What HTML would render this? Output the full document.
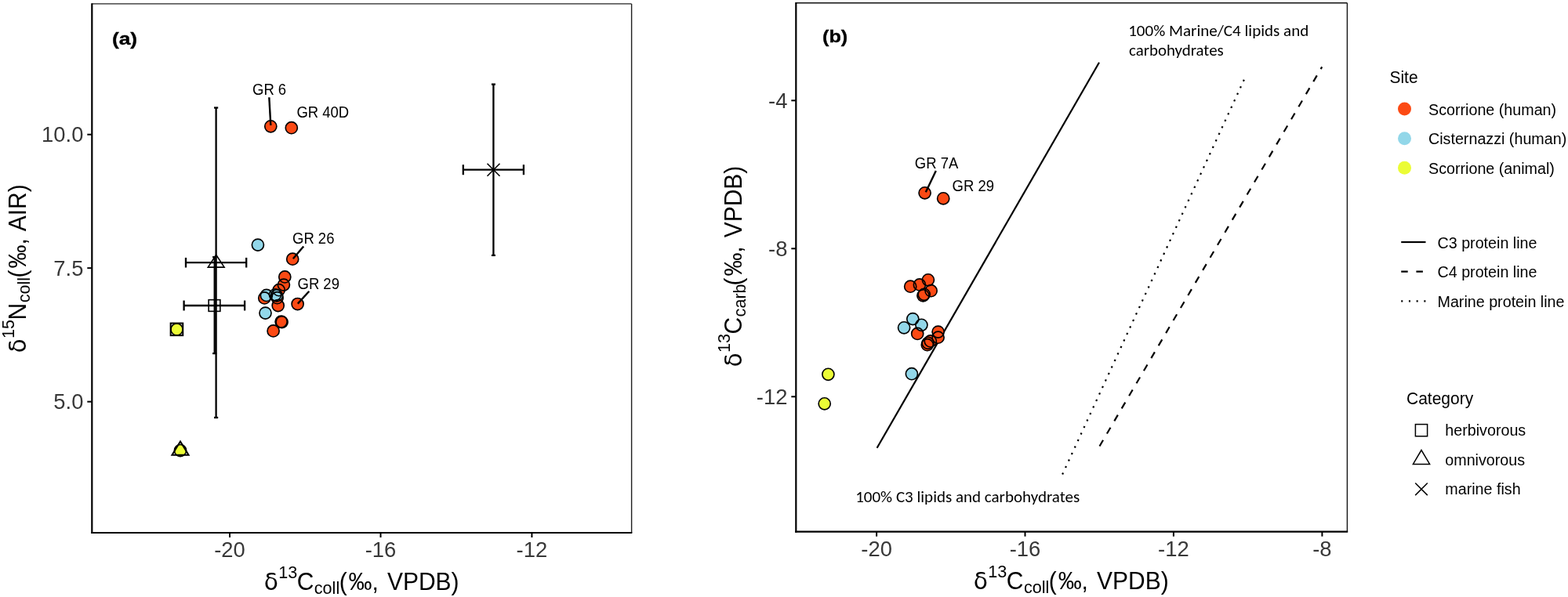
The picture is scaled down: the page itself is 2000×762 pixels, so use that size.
<!DOCTYPE html>
<html><head><meta charset="utf-8"><title>Isotope plots</title>
<style>html,body{margin:0;padding:0;background:#fff;} svg{display:block;}</style>
</head><body>
<svg width="2000" height="762" viewBox="0 0 2000 762">
<rect x="0" y="0" width="2000" height="762" fill="#fff"/>
<line x1="117.3" y1="4.9" x2="805.6" y2="4.9" stroke="#222" stroke-width="1.4"/>
<line x1="805.6" y1="4.9" x2="805.6" y2="680.0" stroke="#1e1e1e" stroke-width="1.4"/>
<line x1="117.3" y1="4.2" x2="117.3" y2="681.1" stroke="#000" stroke-width="2.2"/>
<line x1="116.2" y1="680.0" x2="806.3000000000001" y2="680.0" stroke="#000" stroke-width="2.2"/>
<line x1="293.0" y1="680.0" x2="293.0" y2="686.0" stroke="#000" stroke-width="2"/>
<text transform="translate(293.0,710.6) scale(0.9662,1)" x="0" y="0" font-size="28.36" text-anchor="middle" fill="#383838" font-family='"Liberation Sans", Arial, Helvetica, sans-serif' >-20</text>
<line x1="485.5" y1="680.0" x2="485.5" y2="686.0" stroke="#000" stroke-width="2"/>
<text transform="translate(485.5,710.6) scale(0.9662,1)" x="0" y="0" font-size="28.36" text-anchor="middle" fill="#383838" font-family='"Liberation Sans", Arial, Helvetica, sans-serif' >-16</text>
<line x1="678.4" y1="680.0" x2="678.4" y2="686.0" stroke="#000" stroke-width="2"/>
<text transform="translate(678.4,710.6) scale(0.9662,1)" x="0" y="0" font-size="28.36" text-anchor="middle" fill="#383838" font-family='"Liberation Sans", Arial, Helvetica, sans-serif' >-12</text>
<line x1="111.3" y1="171.7" x2="117.3" y2="171.7" stroke="#000" stroke-width="2"/>
<text transform="translate(106.4,181.39999999999998) scale(0.9662,1)" x="0" y="0" font-size="28.36" text-anchor="end" fill="#383838" font-family='"Liberation Sans", Arial, Helvetica, sans-serif' >10.0</text>
<line x1="111.3" y1="342.15" x2="117.3" y2="342.15" stroke="#000" stroke-width="2"/>
<text transform="translate(106.4,351.84999999999997) scale(0.9662,1)" x="0" y="0" font-size="28.36" text-anchor="end" fill="#383838" font-family='"Liberation Sans", Arial, Helvetica, sans-serif' >7.5</text>
<line x1="111.3" y1="512.7" x2="117.3" y2="512.7" stroke="#000" stroke-width="2"/>
<text transform="translate(106.4,522.4000000000001) scale(0.9662,1)" x="0" y="0" font-size="28.36" text-anchor="end" fill="#383838" font-family='"Liberation Sans", Arial, Helvetica, sans-serif' >5.0</text>
<text transform="translate(338.4,752.8) rotate(0) scale(0.9756,1)" font-family='"Liberation Sans", Arial, Helvetica, sans-serif' fill="#000"><tspan x="-1.74" y="0.0" font-size="30.50" font-family="DejaVu Sans, Liberation Sans, sans-serif">&#948;</tspan><tspan x="17.22" y="-14.9" font-size="22.14">13</tspan><tspan x="41.31" y="0.0" font-size="30.75">C</tspan><tspan x="63.96" y="5.2" font-size="22.14">coll</tspan><tspan x="96.66" y="0.0" font-size="30.75">(</tspan><tspan x="108.85" y="0.0" font-size="30.75">&#8240;</tspan><tspan x="139.50" y="0.0" font-size="30.75">,</tspan><tspan x="159.39" y="0.0" font-size="30.75">VPDB)</tspan></text>
<text transform="translate(33.2,448.7) rotate(-90) scale(0.9756,1)" font-family='"Liberation Sans", Arial, Helvetica, sans-serif' fill="#000"><tspan x="-1.74" y="0.0" font-size="30.50" font-family="DejaVu Sans, Liberation Sans, sans-serif">&#948;</tspan><tspan x="17.22" y="-14.9" font-size="22.14">15</tspan><tspan x="41.31" y="0.0" font-size="30.75">N</tspan><tspan x="63.96" y="5.2" font-size="22.14">coll</tspan><tspan x="96.66" y="0.0" font-size="30.75">(</tspan><tspan x="108.85" y="0.0" font-size="30.75">&#8240;</tspan><tspan x="139.50" y="0.0" font-size="30.75">,</tspan><tspan x="157.34" y="0.0" font-size="30.75">AIR)</tspan></text>
<text x="142.9" y="56.5" font-size="22" text-anchor="start" font-weight="bold" fill="#000" font-family='"Liberation Sans", Arial, Helvetica, sans-serif' textLength="32.2" lengthAdjust="spacingAndGlyphs" stroke="#000" stroke-width="0.35">(a)</text>
<polygon points="275.7,325.2 265.3,341.1 286.09999999999997,341.1" fill="none" stroke="#000" stroke-width="1.6" stroke-linejoin="miter"/>
<line x1="275.6" y1="137.5" x2="275.6" y2="533.0" stroke="#000" stroke-width="2.3"/><line x1="273.0" y1="137.5" x2="278.20000000000005" y2="137.5" stroke="#000" stroke-width="2.3"/><line x1="273.0" y1="533.0" x2="278.20000000000005" y2="533.0" stroke="#000" stroke-width="2.3"/>
<line x1="237.0" y1="335.2" x2="314.2" y2="335.2" stroke="#000" stroke-width="2.3"/><line x1="237.0" y1="328.9" x2="237.0" y2="341.5" stroke="#000" stroke-width="2.3"/><line x1="314.2" y1="328.9" x2="314.2" y2="341.5" stroke="#000" stroke-width="2.3"/>
<rect x="266.15" y="382.65" width="14.7" height="14.7" fill="none" stroke="#000" stroke-width="1.6"/>
<line x1="273.7" y1="328.1" x2="273.7" y2="451.1" stroke="#000" stroke-width="2.3"/><line x1="271.09999999999997" y1="328.1" x2="276.3" y2="328.1" stroke="#000" stroke-width="2.3"/><line x1="271.09999999999997" y1="451.1" x2="276.3" y2="451.1" stroke="#000" stroke-width="2.3"/>
<line x1="234.6" y1="390.0" x2="312.1" y2="390.0" stroke="#000" stroke-width="2.3"/><line x1="234.6" y1="383.55" x2="234.6" y2="396.45" stroke="#000" stroke-width="2.3"/><line x1="312.1" y1="383.55" x2="312.1" y2="396.45" stroke="#000" stroke-width="2.3"/>
<line x1="621.5" y1="208.7" x2="637.5" y2="224.7" stroke="#000" stroke-width="1.6"/><line x1="621.5" y1="224.7" x2="637.5" y2="208.7" stroke="#000" stroke-width="1.6"/>
<line x1="629.4" y1="107.6" x2="629.4" y2="325.9" stroke="#000" stroke-width="2.3"/><line x1="626.9" y1="107.6" x2="631.9" y2="107.6" stroke="#000" stroke-width="2.3"/><line x1="626.9" y1="325.9" x2="631.9" y2="325.9" stroke="#000" stroke-width="2.3"/>
<line x1="590.8" y1="216.7" x2="667.9" y2="216.7" stroke="#000" stroke-width="2.3"/><line x1="590.8" y1="210.2" x2="590.8" y2="223.2" stroke="#000" stroke-width="2.3"/><line x1="667.9" y1="210.2" x2="667.9" y2="223.2" stroke="#000" stroke-width="2.3"/>
<g>
<circle cx="363.3" cy="353.4" r="7.55" fill="#FC4A14"/>
<circle cx="361.9" cy="363.6" r="7.55" fill="#FC4A14"/>
<circle cx="355.7" cy="370.2" r="7.55" fill="#FC4A14"/>
<circle cx="353.6" cy="380.2" r="7.55" fill="#FC4A14"/>
<circle cx="337.3" cy="380.4" r="7.55" fill="#FC4A14"/>
<circle cx="354.7" cy="390.0" r="7.55" fill="#FC4A14"/>
<circle cx="345.3" cy="161.3" r="7.55" fill="#FC4A14"/>
<circle cx="371.8" cy="163.2" r="7.55" fill="#FC4A14"/>
<circle cx="373.2" cy="330.7" r="7.55" fill="#FC4A14"/>
<circle cx="379.6" cy="388.0" r="7.55" fill="#FC4A14"/>
<circle cx="359.6" cy="411.1" r="7.55" fill="#FC4A14"/>
<circle cx="358.6" cy="410.6" r="7.55" fill="#FC4A14"/>
<circle cx="348.6" cy="422.4" r="7.55" fill="#FC4A14"/>
<circle cx="328.9" cy="312.6" r="7.55" fill="#92D7E9"/>
<circle cx="339.9" cy="376.9" r="7.55" fill="#92D7E9"/>
<circle cx="351.0" cy="376.3" r="7.55" fill="#92D7E9"/>
<circle cx="353.0" cy="377.3" r="7.55" fill="#92D7E9"/>
<circle cx="338.5" cy="399.6" r="7.55" fill="#92D7E9"/>
<circle cx="363.3" cy="353.4" r="7.55" fill="none" stroke="#000" stroke-width="1.65"/>
<circle cx="361.9" cy="363.6" r="7.55" fill="none" stroke="#000" stroke-width="1.65"/>
<circle cx="355.7" cy="370.2" r="7.55" fill="none" stroke="#000" stroke-width="1.65"/>
<circle cx="353.6" cy="380.2" r="7.55" fill="none" stroke="#000" stroke-width="1.65"/>
<circle cx="337.3" cy="380.4" r="7.55" fill="none" stroke="#000" stroke-width="1.65"/>
<circle cx="354.7" cy="390.0" r="7.55" fill="none" stroke="#000" stroke-width="1.65"/>
<circle cx="345.3" cy="161.3" r="7.55" fill="none" stroke="#000" stroke-width="1.65"/>
<circle cx="371.8" cy="163.2" r="7.55" fill="none" stroke="#000" stroke-width="1.65"/>
<circle cx="373.2" cy="330.7" r="7.55" fill="none" stroke="#000" stroke-width="1.65"/>
<circle cx="379.6" cy="388.0" r="7.55" fill="none" stroke="#000" stroke-width="1.65"/>
<circle cx="359.6" cy="411.1" r="7.55" fill="none" stroke="#000" stroke-width="1.65"/>
<circle cx="358.6" cy="410.6" r="7.55" fill="none" stroke="#000" stroke-width="1.65"/>
<circle cx="348.6" cy="422.4" r="7.55" fill="none" stroke="#000" stroke-width="1.65"/>
<circle cx="328.9" cy="312.6" r="7.55" fill="none" stroke="#000" stroke-width="1.65"/>
<circle cx="339.9" cy="376.9" r="7.55" fill="none" stroke="#000" stroke-width="1.65"/>
<circle cx="351.0" cy="376.3" r="7.55" fill="none" stroke="#000" stroke-width="1.65"/>
<circle cx="353.0" cy="377.3" r="7.55" fill="none" stroke="#000" stroke-width="1.65"/>
<circle cx="338.5" cy="399.6" r="7.55" fill="none" stroke="#000" stroke-width="1.65"/>
</g>
<circle cx="225.5" cy="420.4" r="7.55" fill="#EBFC36" stroke="#000" stroke-width="1.65"/>
<rect x="217.64999999999998" y="412.55" width="15.6" height="15.6" fill="none" stroke="#000" stroke-width="2.0"/>
<circle cx="230.0" cy="575.0" r="7.55" fill="#EBFC36" stroke="#000" stroke-width="1.65"/>
<polygon points="230.0,563.4 219.4,580.8 240.6,580.8" fill="none" stroke="#000" stroke-width="2.0" stroke-linejoin="miter"/>
<line x1="343.3" y1="124.3" x2="345.3" y2="160" stroke="#000" stroke-width="2.4"/>
<line x1="373.8" y1="330.3" x2="387.2" y2="314.4" stroke="#000" stroke-width="2.4"/>
<line x1="379.8" y1="387.6" x2="394.3" y2="371.7" stroke="#000" stroke-width="2.4"/>
<text transform="translate(322.0,120.8) scale(0.9390,1)" x="0" y="0" font-size="19.70" text-anchor="start" fill="#000" font-family='"Liberation Sans", Arial, Helvetica, sans-serif' >GR 6</text>
<text transform="translate(378.4,149.7) scale(0.9390,1)" x="0" y="0" font-size="19.70" text-anchor="start" fill="#000" font-family='"Liberation Sans", Arial, Helvetica, sans-serif' >GR 40D</text>
<text transform="translate(373.0,310.7) scale(0.9390,1)" x="0" y="0" font-size="19.70" text-anchor="start" fill="#000" font-family='"Liberation Sans", Arial, Helvetica, sans-serif' >GR 26</text>
<text transform="translate(379.5,368.8) scale(0.9390,1)" x="0" y="0" font-size="19.70" text-anchor="start" fill="#000" font-family='"Liberation Sans", Arial, Helvetica, sans-serif' >GR 29</text>
<line x1="1015.3" y1="3.7" x2="1718.4" y2="3.7" stroke="#111" stroke-width="1.5"/>
<line x1="1718.4" y1="3.7" x2="1718.4" y2="678.7" stroke="#151515" stroke-width="1.4"/>
<line x1="1015.3" y1="3.0" x2="1015.3" y2="679.8000000000001" stroke="#000" stroke-width="2.2"/>
<line x1="1014.1999999999999" y1="678.7" x2="1719.2" y2="678.7" stroke="#000" stroke-width="2.2"/>
<line x1="1118.1" y1="678.7" x2="1118.1" y2="684.7" stroke="#000" stroke-width="2"/>
<text transform="translate(1118.1,709.6) scale(0.9662,1)" x="0" y="0" font-size="28.36" text-anchor="middle" fill="#383838" font-family='"Liberation Sans", Arial, Helvetica, sans-serif' >-20</text>
<line x1="1307.5" y1="678.7" x2="1307.5" y2="684.7" stroke="#000" stroke-width="2"/>
<text transform="translate(1307.5,709.6) scale(0.9662,1)" x="0" y="0" font-size="28.36" text-anchor="middle" fill="#383838" font-family='"Liberation Sans", Arial, Helvetica, sans-serif' >-16</text>
<line x1="1496.9" y1="678.7" x2="1496.9" y2="684.7" stroke="#000" stroke-width="2"/>
<text transform="translate(1496.9,709.6) scale(0.9662,1)" x="0" y="0" font-size="28.36" text-anchor="middle" fill="#383838" font-family='"Liberation Sans", Arial, Helvetica, sans-serif' >-12</text>
<line x1="1686.4" y1="678.7" x2="1686.4" y2="684.7" stroke="#000" stroke-width="2"/>
<text transform="translate(1686.4,709.6) scale(0.9662,1)" x="0" y="0" font-size="28.36" text-anchor="middle" fill="#383838" font-family='"Liberation Sans", Arial, Helvetica, sans-serif' >-8</text>
<line x1="1009.3" y1="128.3" x2="1015.3" y2="128.3" stroke="#000" stroke-width="2"/>
<text transform="translate(1004.4,138.0) scale(0.9662,1)" x="0" y="0" font-size="28.36" text-anchor="end" fill="#383838" font-family='"Liberation Sans", Arial, Helvetica, sans-serif' >-4</text>
<line x1="1009.3" y1="317.3" x2="1015.3" y2="317.3" stroke="#000" stroke-width="2"/>
<text transform="translate(1004.4,327.0) scale(0.9662,1)" x="0" y="0" font-size="28.36" text-anchor="end" fill="#383838" font-family='"Liberation Sans", Arial, Helvetica, sans-serif' >-8</text>
<line x1="1009.3" y1="506.3" x2="1015.3" y2="506.3" stroke="#000" stroke-width="2"/>
<text transform="translate(1004.4,516.0) scale(0.9662,1)" x="0" y="0" font-size="28.36" text-anchor="end" fill="#383838" font-family='"Liberation Sans", Arial, Helvetica, sans-serif' >-12</text>
<text transform="translate(1243.5,751.7) rotate(0) scale(0.9756,1)" font-family='"Liberation Sans", Arial, Helvetica, sans-serif' fill="#000"><tspan x="-1.74" y="0.0" font-size="30.50" font-family="DejaVu Sans, Liberation Sans, sans-serif">&#948;</tspan><tspan x="17.22" y="-14.9" font-size="22.14">13</tspan><tspan x="41.31" y="0.0" font-size="30.75">C</tspan><tspan x="63.96" y="5.2" font-size="22.14">coll</tspan><tspan x="96.66" y="0.0" font-size="30.75">(</tspan><tspan x="108.85" y="0.0" font-size="30.75">&#8240;</tspan><tspan x="139.50" y="0.0" font-size="30.75">,</tspan><tspan x="159.39" y="0.0" font-size="30.75">VPDB)</tspan></text>
<text transform="translate(945.7,466.8) rotate(-90) scale(0.9756,1)" font-family='"Liberation Sans", Arial, Helvetica, sans-serif' fill="#000"><tspan x="-1.74" y="0.0" font-size="30.50" font-family="DejaVu Sans, Liberation Sans, sans-serif">&#948;</tspan><tspan x="17.22" y="-14.9" font-size="22.14">13</tspan><tspan x="41.31" y="0.0" font-size="30.75">C</tspan><tspan x="63.96" y="5.2" font-size="22.14">carb</tspan><tspan x="104.86" y="0.0" font-size="30.75">(</tspan><tspan x="117.05" y="0.0" font-size="30.75">&#8240;</tspan><tspan x="147.70" y="0.0" font-size="30.75">,</tspan><tspan x="167.59" y="0.0" font-size="30.75">VPDB)</tspan></text>
<text x="1049.1" y="53.9" font-size="22" text-anchor="start" font-weight="bold" fill="#000" font-family='"Liberation Sans", Arial, Helvetica, sans-serif' textLength="32.1" lengthAdjust="spacingAndGlyphs" stroke="#000" stroke-width="0.35">(b)</text>
<line x1="1118.6" y1="571.8" x2="1402.0" y2="79.7" stroke="#000" stroke-width="2.2"/>
<line x1="1402.5" y1="569.5" x2="1686.2" y2="85.4" stroke="#000" stroke-width="2.2" stroke-dasharray="9 9.6"/>
<line x1="1355.12" y1="605.54" x2="1589.3" y2="96.4" stroke="#000" stroke-width="2.2" stroke-dasharray="2.3 7.06"/>
<text x="1439.2" y="45.6" font-size="19.5" text-anchor="start" font-weight="normal" fill="#000" font-family='Carlito, Calibri, "Liberation Sans", sans-serif' textLength="230.1" lengthAdjust="spacingAndGlyphs">100% Marine/C4 lipids and</text>
<text x="1440.0" y="70.6" font-size="19.5" text-anchor="start" font-weight="normal" fill="#000" font-family='Carlito, Calibri, "Liberation Sans", sans-serif' textLength="120.7" lengthAdjust="spacingAndGlyphs">carbohydrates</text>
<text x="1091.2" y="640.5" font-size="19.5" text-anchor="start" font-weight="normal" fill="#000" font-family='Carlito, Calibri, "Liberation Sans", sans-serif' textLength="286" lengthAdjust="spacingAndGlyphs">100% C3 lipids and carbohydrates</text>
<circle cx="1161.2" cy="365.7" r="7.55" fill="#FC4A14"/>
<circle cx="1172.9" cy="363.4" r="7.55" fill="#FC4A14"/>
<circle cx="1183.9" cy="357.3" r="7.55" fill="#FC4A14"/>
<circle cx="1187.6" cy="371.2" r="7.55" fill="#FC4A14"/>
<circle cx="1178.7" cy="375.8" r="7.55" fill="#FC4A14"/>
<circle cx="1177.4" cy="377.3" r="7.55" fill="#FC4A14"/>
<circle cx="1170.2" cy="425.9" r="7.55" fill="#FC4A14"/>
<circle cx="1196.6" cy="423.6" r="7.55" fill="#FC4A14"/>
<circle cx="1196.6" cy="430.7" r="7.55" fill="#FC4A14"/>
<circle cx="1183.6" cy="437.8" r="7.55" fill="#FC4A14"/>
<circle cx="1182.8" cy="440.2" r="7.55" fill="#FC4A14"/>
<circle cx="1186.8" cy="435.4" r="7.55" fill="#FC4A14"/>
<circle cx="1179.6" cy="246.3" r="7.55" fill="#FC4A14"/>
<circle cx="1203.2" cy="253.3" r="7.55" fill="#FC4A14"/>
<circle cx="1164.3" cy="407.1" r="7.55" fill="#92D7E9"/>
<circle cx="1153.1" cy="418.3" r="7.55" fill="#92D7E9"/>
<circle cx="1175.4" cy="414.8" r="7.55" fill="#92D7E9"/>
<circle cx="1162.9" cy="477.2" r="7.55" fill="#92D7E9"/>
<circle cx="1161.2" cy="365.7" r="7.55" fill="none" stroke="#000" stroke-width="1.65"/>
<circle cx="1172.9" cy="363.4" r="7.55" fill="none" stroke="#000" stroke-width="1.65"/>
<circle cx="1183.9" cy="357.3" r="7.55" fill="none" stroke="#000" stroke-width="1.65"/>
<circle cx="1187.6" cy="371.2" r="7.55" fill="none" stroke="#000" stroke-width="1.65"/>
<circle cx="1178.7" cy="375.8" r="7.55" fill="none" stroke="#000" stroke-width="1.65"/>
<circle cx="1177.4" cy="377.3" r="7.55" fill="none" stroke="#000" stroke-width="1.65"/>
<circle cx="1170.2" cy="425.9" r="7.55" fill="none" stroke="#000" stroke-width="1.65"/>
<circle cx="1196.6" cy="423.6" r="7.55" fill="none" stroke="#000" stroke-width="1.65"/>
<circle cx="1196.6" cy="430.7" r="7.55" fill="none" stroke="#000" stroke-width="1.65"/>
<circle cx="1183.6" cy="437.8" r="7.55" fill="none" stroke="#000" stroke-width="1.65"/>
<circle cx="1182.8" cy="440.2" r="7.55" fill="none" stroke="#000" stroke-width="1.65"/>
<circle cx="1186.8" cy="435.4" r="7.55" fill="none" stroke="#000" stroke-width="1.65"/>
<circle cx="1179.6" cy="246.3" r="7.55" fill="none" stroke="#000" stroke-width="1.65"/>
<circle cx="1203.2" cy="253.3" r="7.55" fill="none" stroke="#000" stroke-width="1.65"/>
<circle cx="1164.3" cy="407.1" r="7.55" fill="none" stroke="#000" stroke-width="1.65"/>
<circle cx="1153.1" cy="418.3" r="7.55" fill="none" stroke="#000" stroke-width="1.65"/>
<circle cx="1175.4" cy="414.8" r="7.55" fill="none" stroke="#000" stroke-width="1.65"/>
<circle cx="1162.9" cy="477.2" r="7.55" fill="none" stroke="#000" stroke-width="1.65"/>
<circle cx="1056.4" cy="477.8" r="7.55" fill="#EBFC36" stroke="#000" stroke-width="1.65"/>
<circle cx="1051.7" cy="515.3" r="7.55" fill="#EBFC36" stroke="#000" stroke-width="1.65"/>
<line x1="1193.8" y1="218.1" x2="1180.8" y2="245.3" stroke="#000" stroke-width="2.4"/>
<text transform="translate(1166.8,214.6) scale(0.9390,1)" x="0" y="0" font-size="19.70" text-anchor="start" fill="#000" font-family='"Liberation Sans", Arial, Helvetica, sans-serif' >GR 7A</text>
<text transform="translate(1214.6,243.7) scale(0.9390,1)" x="0" y="0" font-size="19.70" text-anchor="start" fill="#000" font-family='"Liberation Sans", Arial, Helvetica, sans-serif' >GR 29</text>
<text transform="translate(1772.4,105.7) scale(0.9390,1)" x="0" y="0" font-size="22.36" text-anchor="start" fill="#000" font-family='"Liberation Sans", Arial, Helvetica, sans-serif' >Site</text>
<circle cx="1791.5" cy="139.1" r="8.5" fill="#FC4A14"/>
<text transform="translate(1822.0,146.8) scale(0.9390,1)" x="0" y="0" font-size="20.98" text-anchor="start" fill="#000" font-family='"Liberation Sans", Arial, Helvetica, sans-serif' >Scorrione (human)</text>
<circle cx="1791.5" cy="176.7" r="8.5" fill="#92D7E9"/>
<text transform="translate(1822.0,184.4) scale(0.9390,1)" x="0" y="0" font-size="20.98" text-anchor="start" fill="#000" font-family='"Liberation Sans", Arial, Helvetica, sans-serif' >Cisternazzi (human)</text>
<circle cx="1791.5" cy="214.3" r="8.5" fill="#EBFC36"/>
<text transform="translate(1822.0,222.0) scale(0.9390,1)" x="0" y="0" font-size="20.98" text-anchor="start" fill="#000" font-family='"Liberation Sans", Arial, Helvetica, sans-serif' >Scorrione (animal)</text>
<line x1="1787.2" y1="309.0" x2="1818.5" y2="309.0" stroke="#000" stroke-width="2.2"/>
<text transform="translate(1833.5,316.6) scale(0.9390,1)" x="0" y="0" font-size="20.98" text-anchor="start" fill="#000" font-family='"Liberation Sans", Arial, Helvetica, sans-serif' >C3 protein line</text>
<line x1="1787.2" y1="346.7" x2="1818.5" y2="346.7" stroke="#000" stroke-width="2.2" stroke-dasharray="8.5 10.7"/>
<text transform="translate(1833.5,354.3) scale(0.9390,1)" x="0" y="0" font-size="20.98" text-anchor="start" fill="#000" font-family='"Liberation Sans", Arial, Helvetica, sans-serif' >C4 protein line</text>
<line x1="1787.2" y1="384.4" x2="1818.5" y2="384.4" stroke="#000" stroke-width="2.2" stroke-dasharray="2.1 7.6"/>
<text transform="translate(1833.5,392.0) scale(0.9390,1)" x="0" y="0" font-size="20.98" text-anchor="start" fill="#000" font-family='"Liberation Sans", Arial, Helvetica, sans-serif' >Marine protein line</text>
<text transform="translate(1794.0,515.7) scale(0.9390,1)" x="0" y="0" font-size="22.36" text-anchor="start" fill="#000" font-family='"Liberation Sans", Arial, Helvetica, sans-serif' >Category</text>
<rect x="1805.4" y="541.6" width="15.2" height="15.2" fill="none" stroke="#000" stroke-width="1.5"/>
<polygon points="1813.0,574.5 1802.4,592.4 1823.6,592.4" fill="none" stroke="#000" stroke-width="1.5" stroke-linejoin="miter"/>
<line x1="1805.2" y1="616.5" x2="1820.8" y2="632.0999999999999" stroke="#000" stroke-width="1.5"/><line x1="1805.2" y1="632.0999999999999" x2="1820.8" y2="616.5" stroke="#000" stroke-width="1.5"/>
<text transform="translate(1843.3,555.9) scale(0.9390,1)" x="0" y="0" font-size="20.98" text-anchor="start" fill="#000" font-family='"Liberation Sans", Arial, Helvetica, sans-serif' >herbivorous</text>
<text transform="translate(1843.3,593.5) scale(0.9390,1)" x="0" y="0" font-size="20.98" text-anchor="start" fill="#000" font-family='"Liberation Sans", Arial, Helvetica, sans-serif' >omnivorous</text>
<text transform="translate(1843.3,631.1) scale(0.9390,1)" x="0" y="0" font-size="20.98" text-anchor="start" fill="#000" font-family='"Liberation Sans", Arial, Helvetica, sans-serif' >marine fish</text>
</svg>
</body></html>
